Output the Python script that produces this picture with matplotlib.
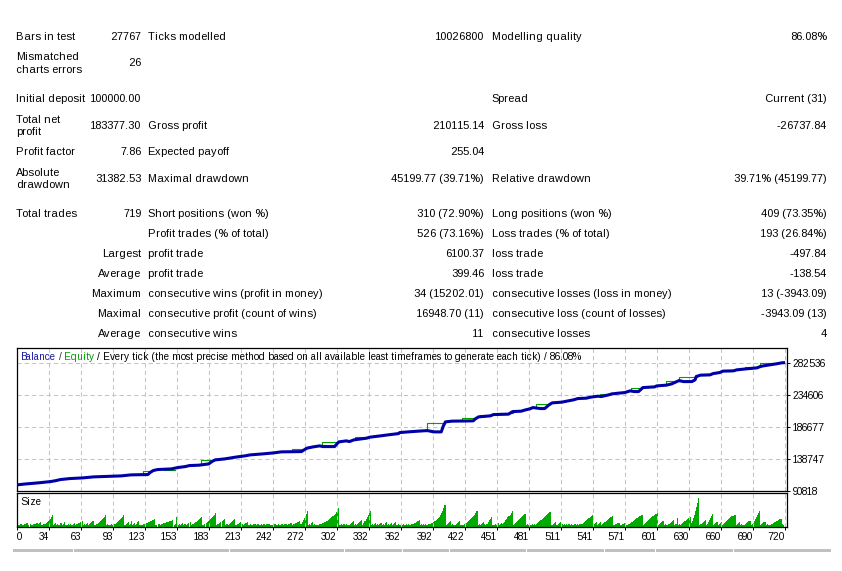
import numpy as np
import matplotlib.pyplot as plt
from matplotlib.patches import Rectangle

# 1. REPORT TABLE (label, value, label, value, label, value)
report_rows = [
    ("Bars in test", "27767", "Ticks modelled", "10026800", "Modelling quality", "86.08%"),
    ("Mismatched\ncharts errors", "26", "", "", "", ""),
    ("Initial deposit", "100000.00", "", "", "Spread", "Current (31)"),
    ("Total net\nprofit", "183377.30", "Gross profit", "210115.14", "Gross loss", "-26737.84"),
    ("Profit factor", "7.86", "Expected payoff", "255.04", "", ""),
    ("Absolute\ndrawdown", "31382.53", "Maximal drawdown", "45199.77 (39.71%)",
     "Relative drawdown", "39.71% (45199.77)"),
    ("Total trades", "719", "Short positions (won %)", "310 (72.90%)",
     "Long positions (won %)", "409 (73.35%)"),
    ("", "", "Profit trades (% of total)", "526 (73.16%)", "Loss trades (% of total)", "193 (26.84%)"),
    ("", "Largest", "profit trade", "6100.37", "loss trade", "-497.84"),
    ("", "Average", "profit trade", "399.46", "loss trade", "-138.54"),
    ("", "Maximum", "consecutive wins (profit in money)", "34 (15202.01)",
     "consecutive losses (loss in money)", "13 (-3943.09)"),
    ("", "Maximal", "consecutive profit (count of wins)", "16948.70 (11)",
     "consecutive loss (count of losses)", "-3943.09 (13)"),
    ("", "Average", "consecutive wins", "11", "consecutive losses", "4"),
]
row_y = [37, 63.5, 99, 126, 152, 179, 214, 234, 254, 274, 294, 314, 334]

# 2. BALANCE CURVE (trade number, balance)
bal_trade = [0, 9, 20, 32, 37, 41, 50, 62, 72, 98, 107, 123, 125, 128, 132, 145, 151, 158,
             162, 171, 180, 183, 186, 195, 197, 205, 214, 219, 231, 241, 248, 267, 269, 272,
             278, 284, 287, 298, 300, 302, 309, 312, 316, 328, 331, 341, 348, 358, 359, 367,
             376, 385, 391, 398, 400, 402, 408, 428, 430, 433, 444, 447, 461, 465, 473, 476,
             481, 484, 491, 495, 499, 502, 511, 517, 522, 526, 534, 538, 545, 548, 555, 558,
             564, 570, 575, 579, 583, 586, 587, 598, 600, 609, 614, 621, 625, 633, 636, 637,
             641, 650, 653, 659, 662, 672, 675, 684, 694, 697, 700, 706, 712, 717, 719]
bal_value = [100000, 101500, 103000, 105000, 106500, 108000, 109500, 110500, 112000, 113500,
             115000, 115500, 118500, 121500, 123000, 124000, 126000, 127500, 129000, 129600,
             131500, 135000, 137500, 139000, 139500, 141600, 143550, 145050, 146550, 148050,
             149550, 150000, 152100, 155100, 157050, 158550, 157500, 157500, 161100, 164550,
             166050, 165000, 167550, 170100, 171600, 173550, 175050, 177000, 178500, 179550,
             180600, 181500, 179550, 179550, 188600, 194600, 195650, 196100, 199100, 202100,
             203600, 205550, 206150, 210050, 210650, 212150, 214100, 216050, 214550, 214550,
             220100, 223100, 224150, 226100, 227600, 229550, 230150, 231650, 233150, 232550,
             235100, 236600, 237650, 238550, 241100, 240050, 240050, 244550, 246050, 247100,
             248600, 249650, 251600, 256600, 255050, 255050, 257650, 262600, 264700, 265150,
             267100, 268600, 270700, 271150, 272650, 274150, 275650, 277600, 278650, 280150,
             281650, 283150, 283377.30]

# equity above balance while positions were open
eq_from = [118, 138, 153, 163, 172.5, 186, 258, 286, 317, 385, 417, 434, 450, 486.5,
           547, 576, 587, 609, 621, 642, 662, 683, 697]
eq_to = [125, 148, 158, 171, 183, 195, 269, 300, 330, 400, 430, 445, 465, 499,
         556, 586, 598, 621, 637.5, 650, 672, 695, 712.5]
eq_level = [120600, 123000, 127050, 130500, 137100, 139500, 154500, 164100, 171600, 193500,
            201000, 205100, 208550, 221150, 236200, 245200, 247100, 256100, 262600, 265600,
            272200, 277600, 282700]

# 3. LOT SIZE PER TRADE (grouped by grid cycle)
size_cycles = [
    [2, 2, 2, 3, 3, 2, 2, 3, 3, 4, 4, 2, 3],
    [2, 2, 3, 3, 3, 4, 4, 3, 4, 5],
    [2, 2, 3, 3, 4, 5, 6, 7, 8, 10, 12],
    [2, 3, 4, 2, 3, 2, 2, 4, 2, 3, 5, 2],
    [2, 2, 3, 2, 3, 2, 2, 3, 4, 2, 3, 4, 4, 5],
    [3, 6, 2, 3, 2, 3, 4, 2, 3, 4, 5, 6],
    [2, 2, 3, 3, 4, 5, 6, 7, 8, 9, 10, 12],
    [2, 3, 2, 2, 3, 2],
    [2, 3, 3, 4, 5, 6, 7, 8, 9, 10, 12],
    [2, 3, 4, 5, 2, 3, 6, 2, 3, 4, 2, 3, 5, 6, 2],
    [2, 2, 3, 3, 3, 4, 4, 5, 5, 6, 6, 7, 7, 8],
    [2, 2, 3, 3, 2, 3, 3, 4, 4, 4, 5, 5, 5, 6, 6, 6, 7],
    [2, 3, 10, 2, 2, 3],
    [2, 3, 4, 2, 3, 3, 2, 3, 4, 5],
    [2, 3, 3, 4, 5, 5, 6, 7, 8, 9, 10],
    [2, 2, 3, 4, 5, 6, 7, 8, 9, 10, 11, 12, 14],
    [2, 3, 3, 4, 5, 6, 7, 8, 2, 3, 3],
    [2, 3, 4, 5, 6, 7, 8, 2],
    [2, 3, 4, 5, 2, 3, 2, 3, 4, 4, 5, 2, 2, 3, 2],
    [2, 3, 3, 2, 3, 3, 2, 2, 3, 2, 3, 3, 2, 3, 3, 3, 2, 2],
    [2, 2, 3, 3, 2, 2, 3, 2, 2, 3, 3, 2, 3, 3, 2, 3, 3, 4, 4, 2, 3, 3, 4, 4, 5, 5, 6],
    [3, 5, 7, 9, 11, 13, 16],
    [2, 3, 2, 4, 5, 2, 3, 2],
    [2, 2, 3, 3, 3, 4, 4, 5, 5, 6, 6, 7, 8, 9, 10, 11, 12, 13, 15, 17, 19],
    [2, 2, 3, 2, 3, 3, 2, 3, 2],
    [2, 3, 4, 5, 6, 2, 3],
    [2, 3, 4, 5, 6, 7, 2],
    [4, 6, 8, 10, 12, 14, 16],
    [2, 3, 2, 3, 4, 2, 3, 2, 3, 4, 2, 3, 2, 4, 5, 2, 3, 2, 3, 4, 2, 3, 4, 5, 2, 3, 2, 2, 3],
    [2, 3, 2, 2, 3, 2, 3, 2],
    [2, 3, 3, 4, 4, 5, 6, 6, 7],
    [2, 3, 2, 3, 2, 3],
    [2, 2, 3, 3, 4, 4, 5, 6, 6, 7, 8, 9, 10, 12, 14, 16, 19, 22],
    [2, 3, 4, 5, 6, 2, 3, 2, 2],
    [2, 3, 4, 5, 6, 2, 2],
    [2, 3, 3, 4, 5, 6, 7, 8, 9, 10, 11, 12, 14, 16],
    [2, 3, 2, 3, 4, 5, 3, 2, 3],
    [3, 5, 7, 8, 10, 2],
    [2, 3, 2, 3, 4, 2, 3, 4],
    [3, 4, 5, 7, 8, 10, 11, 12, 14, 16],
    [2, 3, 4, 5, 6, 7, 8, 9, 10, 11, 12, 13],
    [2, 3, 2, 3, 2, 2, 3, 2, 3],
    [2, 3, 4, 5, 6, 7, 8, 9, 10, 11, 12, 13, 14, 15],
    [15, 2],
    [2, 3, 4, 5, 2, 3, 4, 5, 2, 3, 2, 3],
    [2, 3, 2, 3, 3, 2, 3, 2, 3, 3, 2, 3, 2, 3, 3, 3],
    [3, 4, 5, 6, 7, 8, 9, 10, 11, 12],
    [2, 3, 4, 5, 2, 3, 4, 5, 2],
    [3, 4, 5, 6, 7, 8, 9, 10, 10, 11],
    [2, 2, 3, 3, 4, 4, 4, 2, 3, 3, 4, 4, 2],
    [2, 3, 3, 4, 5, 5, 6, 7, 8, 9, 10, 11, 11, 12, 12],
    [2, 3, 4, 5, 6, 7, 8, 9, 10, 11, 12, 13, 13, 14],
    [2, 3, 4, 5, 6, 6, 2, 3, 2],
    [2, 3, 4, 5, 6, 7, 2, 3],
    [3, 9, 2, 3],
    [2, 3, 4, 5, 6, 7, 8, 9, 9, 10],
    [4, 6, 9, 12, 16, 20, 24, 29],
    [2, 3, 4, 5, 6, 7, 2],
    [3, 5, 7, 9, 11, 13],
    [2, 3, 4, 5, 2, 3, 4, 5],
    [2, 3, 4, 5, 6, 7, 8, 9, 10, 11, 11, 12, 12],
    [2, 3, 4, 5, 2, 3, 2, 2],
    [2, 3, 4, 5, 6, 6, 2, 3],
    [4, 6, 8, 10, 12, 14, 16],
    [2, 3, 4, 5, 5, 2, 3, 2, 2],
    [2, 3, 3, 4, 5, 5, 6, 6, 7, 8, 8],
    [3, 2],
]
lot_sizes = [v for cycle in size_cycles for v in cycle]

y_tick_values = [90818, 138747, 186677, 234606, 282536]
x_tick_labels = ["0", "34", "63", "93", "123", "153", "183", "213", "242", "272", "302", "332",
                 "362", "392", "422", "451", "481", "511", "541", "571", "601", "630", "660",
                 "690", "720"]

# 4. FIGURE
W, H = 842, 571
FS = 7.6        # report table
FS_TITLE = 7.0  # chart caption
FS_TICK = 7.4   # chart tick labels
plt.rcParams['font.family'] = ['Liberation Sans', 'DejaVu Sans']
plt.rcParams['text.hinting'] = 'auto'
plt.rcParams['text.hinting_factor'] = 1
fig = plt.figure(figsize=(W / 100, H / 100), dpi=100)
fig.patch.set_facecolor('white')


def fig_xy(x, y):
    return x / W, 1 - y / H


# table text
col_x = [15.7, 141, 148.3, 484.3, 491.7, 827]
col_ha = ['left', 'right', 'left', 'right', 'left', 'right']
for y, row in zip(row_y, report_rows):
    for x, ha, s in zip(col_x, col_ha, row):
        lines = s.split("\n")
        for i, line in enumerate(lines):
            dy = (i - (len(lines) - 1) / 2) * 12.7
            fig.text(*fig_xy(x, y + dy), line, ha=ha, va='center', fontsize=FS, color='black')

# 5. BALANCE / EQUITY PANEL
chart_left, chart_right = 16.7, 786.7
x_max = (chart_right - chart_left) * 0.9375
ax = fig.add_axes([chart_left / W, 1 - 491 / H, (chart_right - chart_left) / W, 143 / H])
for t0, t1, lvl in zip(eq_from, eq_to, eq_level):
    b0 = np.interp(t0, bal_trade, bal_value)
    ax.plot([t0, t0, t1], [b0, lvl, lvl], color='#00a000', lw=0.8, zorder=2)
ax.plot(bal_trade, bal_value, color='#0000a8', lw=2.2, zorder=3)

ax.set_xlim(0, x_max)
ax.set_ylim(90818, 305460)
x_ticks = np.arange(len(x_tick_labels)) * 30
ax.set_xticks(x_ticks)
ax.tick_params(axis='x', length=0, labelbottom=False)
ax.set_yticks(y_tick_values)
ax.set_yticklabels([str(v) for v in y_tick_values])
ax.yaxis.tick_right()
ax.tick_params(axis='y', direction='out', length=2.5, width=0.7, pad=2, labelsize=FS_TICK)
ax.grid(True, color='#c4c4c4', linestyle=(0, (4, 3)), linewidth=0.75)
for sp in ax.spines.values():
    sp.set_linewidth(0.9)

# title with coloured words
fig.canvas.draw()
renderer = fig.canvas.get_renderer()
title_parts = [("Balance", '#1a1aa0'), (" /", '#333333'), (" Equity", '#00a000'),
               (" / Every tick (the most precise method based on all available least timeframes"
                " to generate each tick) / 86.08%", 'black')]
tx = 20.5
for s, c in title_parts:
    t = fig.text(*fig_xy(tx, 356.5), s, ha='left', va='center', fontsize=FS_TITLE, color=c)
    tx += t.get_window_extent(renderer=renderer).width

# 6. SIZE PANEL
ax2 = fig.add_axes([chart_left / W, 1 - 527 / H, (chart_right - chart_left) / W, 34 / H])
ax2.bar(np.arange(len(lot_sizes)), lot_sizes, width=1.0, align='edge', color='#00aa00',
        linewidth=0)
ax2.set_xlim(0, x_max)
ax2.set_ylim(0, 33.5)
ax2.set_yticks([])
ax2.set_xticks(x_ticks)
ax2.set_xticklabels(x_tick_labels)
ax2.tick_params(axis='x', direction='out', length=2.5, width=0.7, pad=1, labelsize=FS_TICK)
for i, lbl in enumerate(ax2.get_xticklabels()):
    lbl.set_ha('left' if i == 0 else 'right')
ax2.grid(True, axis='x', color='#c4c4c4', linestyle=(0, (4, 3)), linewidth=0.75)
for sp in ax2.spines.values():
    sp.set_linewidth(0.9)
ax2.text(3.8 / (chart_right - chart_left), 0.74, "Size", transform=ax2.transAxes,
         ha='left', va='center', fontsize=FS_TITLE)

# 7. grey header strip under the chart
for a, b in [(13, 72.7), (74, 229), (230.3, 343.7), (345, 401.7), (403, 449), (450, 526),
             (527.3, 603.7), (605, 655), (656.3, 732.7), (734, 831)]:
    fig.patches.append(Rectangle(fig_xy(a, 551.7), (b - a) / W, 3 / H,
                                 transform=fig.transFigure, color='#c0c0c0', lw=0))

fig.savefig("out.png", dpi=100, facecolor='white')
